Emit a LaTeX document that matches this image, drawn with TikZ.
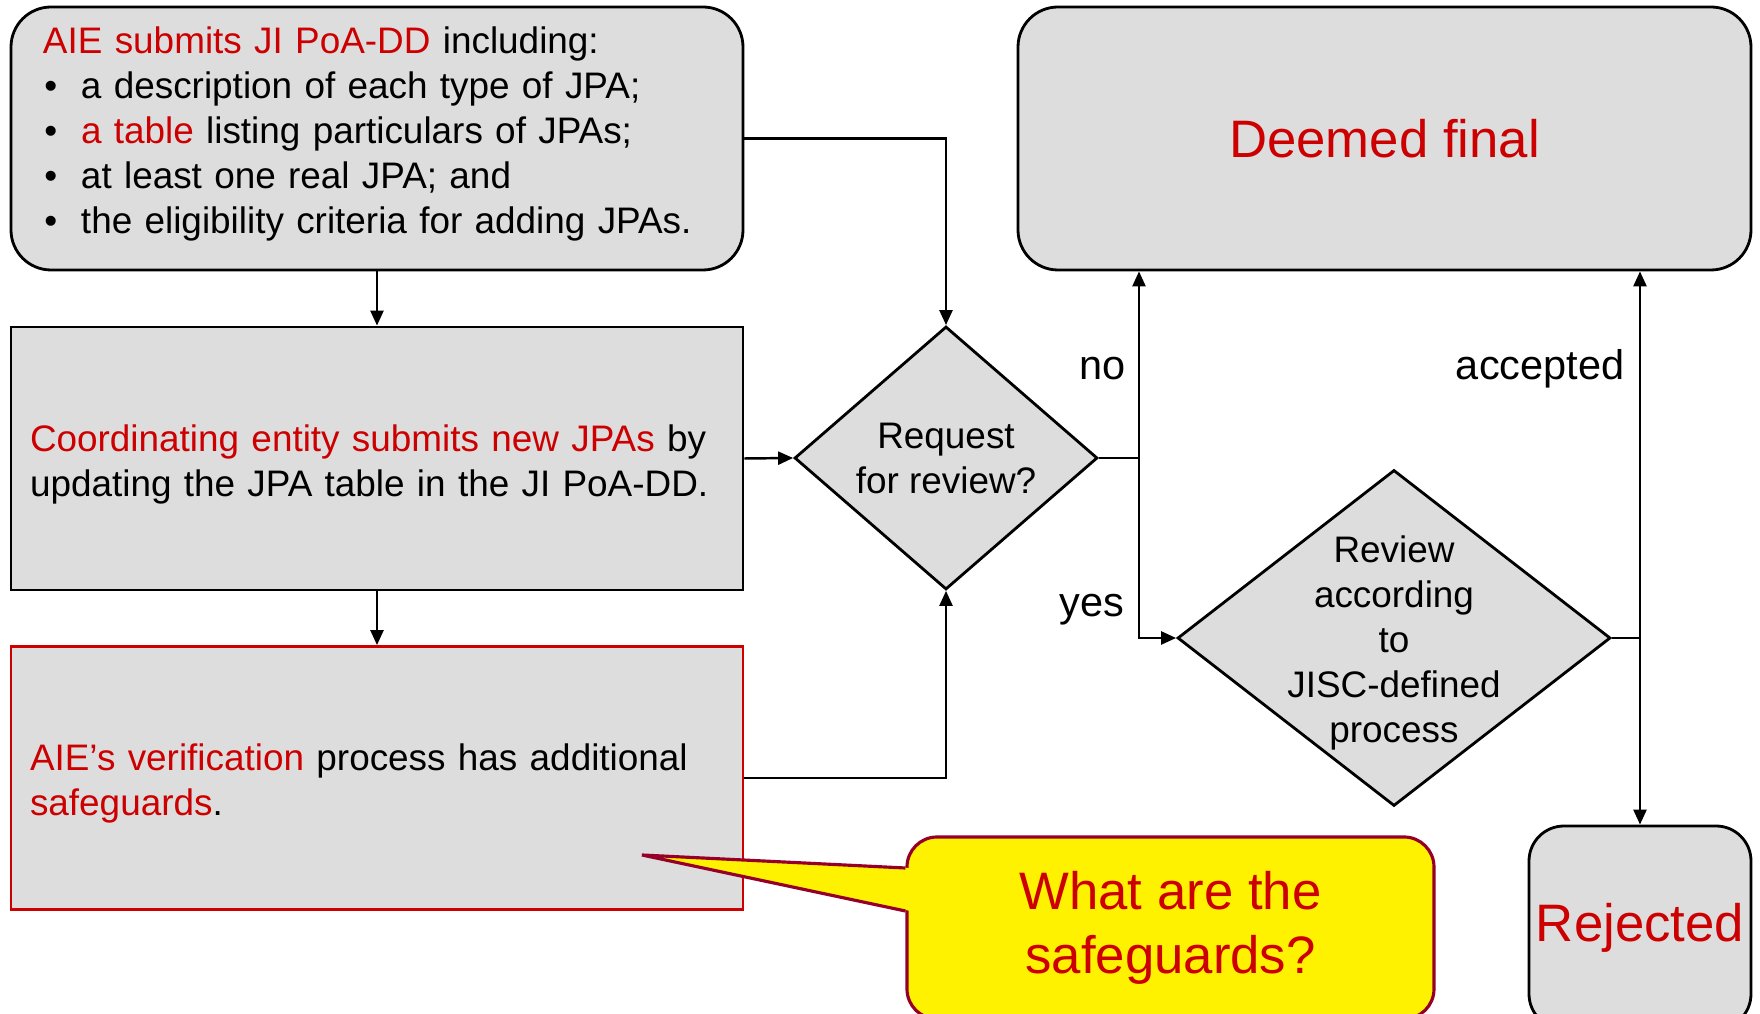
\documentclass[tikz,border=0pt]{standalone}
\usepackage{fontspec}
\setmainfont{Liberation Sans}
\usepackage{tikz}
\usetikzlibrary{arrows.meta, positioning, shapes.geometric, calc}
\usepackage{xcolor}
\definecolor{boxgray}{RGB}{221,221,221}
\definecolor{hlred}{RGB}{204,0,0}
\definecolor{calloutedge}{RGB}{150,0,40}

\begin{document}
\begin{tikzpicture}[
    stepbox/.style={rectangle, draw, line width=0.8pt, fill=boxgray, minimum width=7.32cm, minimum height=2.63cm, align=left, font=\fontsize{10.5}{12.8}\selectfont},
    endbox/.style={rectangle, rounded corners=0.4cm, draw, line width=0.8pt, fill=boxgray, text=hlred, font=\fontsize{15}{18.2}\selectfont},
    decision/.style={diamond, draw, line width=0.8pt, fill=boxgray, aspect=1.15, inner sep=0pt, align=center, font=\fontsize{10.5}{12.8}\selectfont},
    ask/.style={rectangle, rounded corners=0.3cm, draw=calloutedge, line width=0.9pt, fill=yellow, minimum width=5.27cm, minimum height=1.82cm, align=center, text=hlred, font=\fontsize{15}{18.2}\selectfont},
    lbl/.style={font=\fontsize{11.8}{14}\selectfont, anchor=east, inner sep=0pt},
    arr/.style={-{Triangle[length=1.5mm, width=1.3mm]}, line width=0.7pt},
    conn/.style={line width=0.7pt}
]
    % Canvas - same proportions as the slide
    \useasboundingbox (0,0) rectangle (17.6,-10.14);
    \clip (0,0) rectangle (17.6,-10.14);

    % Left column - submission steps
    \node[stepbox, rounded corners=0.4cm, inner xsep=0.32cm, text width=6.68cm] (aie) at (3.77,-1.385) {%
        \textcolor{hlred}{AIE submits JI PoA-DD} including:\\
        \makebox[0.38cm][l]{\hspace{0.015cm}\textbullet}a description of each type of JPA;\\
        \makebox[0.38cm][l]{\hspace{0.015cm}\textbullet}\textcolor{hlred}{a table} listing particulars of JPAs;\\
        \makebox[0.38cm][l]{\hspace{0.015cm}\textbullet}at least one real JPA; and\\
        \makebox[0.38cm][l]{\hspace{0.015cm}\textbullet}the eligibility criteria for adding JPAs.\rule[-0.17cm]{0pt}{0pt}};
    \node[stepbox, inner xsep=0.19cm, text width=6.94cm] (coord) at (3.77,-4.585) {%
        \rule{0pt}{0.38cm}\textcolor{hlred}{Coordinating entity submits new JPAs} by\\
        updating the JPA table in the JI PoA-DD.};
    \node[stepbox, draw=hlred, inner xsep=0.19cm, text width=6.94cm] (verif) at (3.77,-7.78) {%
        \rule{0pt}{0.38cm}\textcolor{hlred}{AIE’s verification} process has additional\\
        \textcolor{hlred}{safeguards}.};

    % Decisions
    \node[decision, minimum width=3.03cm, minimum height=2.63cm] (req) at (9.46,-4.58) {Request\\for review?};
    \node[decision, minimum width=4.33cm, minimum height=3.36cm] (review) at (13.94,-6.38) {};
    \node[align=center, font=\fontsize{10.5}{12.8}\selectfont] (reviewtext) at ([yshift=-0.05cm]review.center) {Review\\according\\to\\JISC-defined\\process};

    % Outcomes
    \node[endbox, minimum width=7.33cm, minimum height=2.63cm] (final) at (13.845,-1.385) {Deemed final};
    \node[endbox, rounded corners=0.35cm, minimum width=2.22cm, minimum height=2.03cm, inner xsep=0pt] (rejected) at (16.40,-9.275) {Rejected};

    % Junctions
    \coordinate (jn) at (11.39,-4.58);
    \coordinate (jr) at (rejected.north |- review.east);

    % Connectors
    \draw[arr] (aie) -- (coord);
    \draw[arr] (coord) -- (verif);
    \draw[arr] (aie.east) -| (req.north);
    \draw[arr] (coord.east) -- (req.west);
    \draw[arr] (verif.east) -| (req.south);
    \draw[conn] (req.east) -- (jn);
    \draw[arr] (jn) -- (jn |- final.south);
    \draw[arr] (jn) |- (review.west);
    \draw[conn] (review.east) -- (jr);
    \draw[arr] (jr) -- (jr |- final.south);
    \draw[arr] (jr) -- (rejected.north);

    % Branch labels
    \node[lbl] (nolbl) at (11.26,-3.685) {no};
    \node[lbl] (yeslbl) at (11.25,-6.10) {yes};
    \node[lbl] (acclbl) at (16.25,-3.685) {accepted};

    % Callout
    \node[ask] (q) at (11.705,-9.28) {What are the\\safeguards?};
    \coordinate (qtip) at (6.42,-8.55);
    \fill[yellow] ([xshift=0.05cm, yshift=0.60cm]q.west) -- (qtip) -- ([xshift=0.05cm, yshift=0.17cm]q.west) -- cycle;
    \draw[calloutedge, line width=0.9pt] ([yshift=0.60cm]q.west) -- (qtip) -- ([yshift=0.17cm]q.west);

\end{tikzpicture}
\end{document}
